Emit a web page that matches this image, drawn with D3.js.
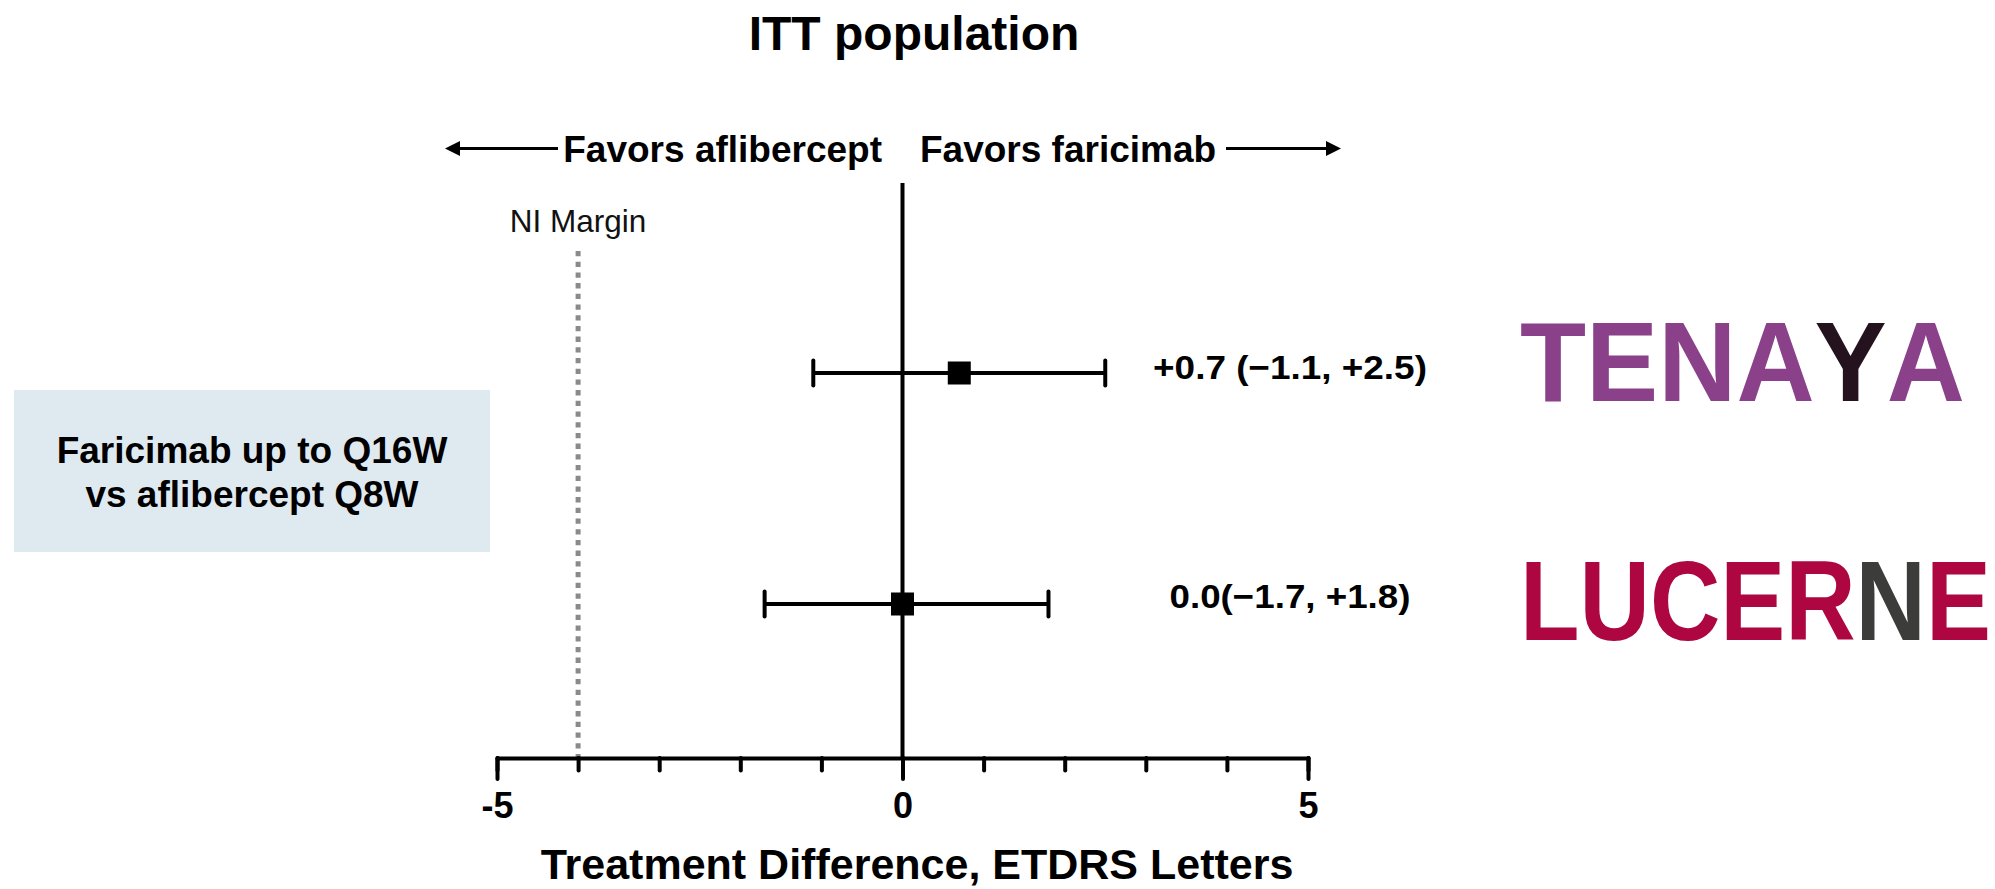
<!DOCTYPE html>
<html>
<head>
<meta charset="utf-8">
<script src="https://cdn.jsdelivr.net/npm/d3@7"></script>
<style>
  html, body { margin: 0; padding: 0; background: #fff; }
  svg { display: block; font-family: "Liberation Sans", Arial, sans-serif; }
</style>
</head>
<body>
<svg id="chart" width="1995" height="889"></svg>
<script>
// Forest plot: treatment difference (faricimab − aflibercept), ITT population
const studies = ["TENAYA", "LUCERNE"];
const estimates = [0.7, 0.0];
const lowerCI = [-1.1, -1.7];
const upperCI = [2.5, 1.8];
const estimateLabels = ["+0.7 (\u22121.1, +2.5)", "0.0(\u22121.7, +1.8)"];
const xTicks = [-5, -4, -3, -2, -1, 0, 1, 2, 3, 4, 5];
const xMajorTicks = [-5, 0, 5];
const niMargin = -4;

const rows = studies.map((s, i) => ({
  study: s, est: estimates[i], lo: lowerCI[i], hi: upperCI[i], label: estimateLabels[i]
}));

const svg = d3.select("#chart");

const x = d3.scaleLinear().domain([-5, 5]).range([497, 1308]);
const y = d3.scalePoint().domain(studies).range([373, 604]);
const axisY = 758;

// Squeeze or stretch a text horizontally so it spans the given width
function fitWidth(sel, tx, ty, width) {
  const w = sel.node().getComputedTextLength();
  sel.attr("x", 0).attr("y", 0)
    .attr("transform", `translate(${tx},${ty}) scale(${width / w},1)`);
}

// Title
svg.append("text")
  .attr("x", 914).attr("y", 50)
  .attr("text-anchor", "middle")
  .attr("font-size", 48).attr("font-weight", "bold")
  .text("ITT population");

// Direction labels with arrows
const dirY = 162, arrowY = 148.5;
svg.append("text")
  .attr("x", 882).attr("y", dirY).attr("text-anchor", "end")
  .attr("font-size", 37).attr("font-weight", "bold")
  .text("Favors aflibercept");
svg.append("text")
  .attr("x", 920).attr("y", dirY).attr("text-anchor", "start")
  .attr("font-size", 37).attr("font-weight", "bold")
  .text("Favors faricimab");

function arrow(x0, x1) {
  const dir = Math.sign(x1 - x0), head = 15, half = 7.5;
  svg.append("line")
    .attr("x1", x0).attr("x2", x1 - dir * head + dir * 2)
    .attr("y1", arrowY).attr("y2", arrowY)
    .attr("stroke", "#000").attr("stroke-width", 3);
  svg.append("path")
    .attr("d", `M${x1},${arrowY} L${x1 - dir * head},${arrowY - half} L${x1 - dir * head},${arrowY + half} Z`)
    .attr("fill", "#000");
}
arrow(558, 445);
arrow(1226, 1341);

// Comparison box
svg.append("rect")
  .attr("x", 14).attr("y", 390).attr("width", 476).attr("height", 162)
  .attr("fill", "#dfe9f0");
const boxText = svg.append("text")
  .attr("text-anchor", "middle")
  .attr("font-size", 37).attr("font-weight", "bold");
boxText.append("tspan").attr("x", 252).attr("y", 463).text("Faricimab up to Q16W");
boxText.append("tspan").attr("x", 252).attr("y", 507).text("vs aflibercept Q8W");

// Non-inferiority margin
svg.append("line")
  .attr("x1", x(niMargin)).attr("x2", x(niMargin))
  .attr("y1", 251).attr("y2", axisY)
  .attr("stroke", "#8a8a8a").attr("stroke-width", 5)
  .attr("stroke-dasharray", "5.3,5.4");
svg.append("text")
  .attr("x", x(niMargin)).attr("y", 232)
  .attr("text-anchor", "middle")
  .attr("font-size", 31.5).attr("fill", "#111")
  .text("NI Margin");

// Line of no difference
svg.append("line")
  .attr("x1", x(0)).attr("x2", x(0))
  .attr("y1", 183).attr("y2", axisY)
  .attr("stroke", "#000").attr("stroke-width", 4);

// X axis: minor ticks at every letter, longer labelled ticks at -5, 0, 5
const minorAxis = d3.axisBottom(x).tickValues(xTicks).tickSize(12.5).tickSizeOuter(0).tickFormat("");
const gMinor = svg.append("g").attr("transform", `translate(0,${axisY})`).call(minorAxis);
gMinor.select(".domain").attr("stroke", "#000").attr("stroke-width", 4).attr("stroke-linecap", "round");
gMinor.selectAll(".tick line").attr("stroke", "#000").attr("stroke-width", 4).attr("stroke-linecap", "round");

const majorAxis = d3.axisBottom(x).tickValues(xMajorTicks).tickSize(21).tickSizeOuter(0).tickFormat(d3.format("d"));
const gMajor = svg.append("g").attr("transform", `translate(0,${axisY})`).call(majorAxis);
gMajor.select(".domain").remove();
gMajor.selectAll(".tick line").attr("stroke", "#000").attr("stroke-width", 4).attr("stroke-linecap", "round");
gMajor.selectAll(".tick text")
  .attr("y", 60).attr("dy", 0)
  .attr("fill", "#000")
  .attr("font-size", 36).attr("font-weight", "bold")
  .attr("font-family", "\"Liberation Sans\", Arial, sans-serif")
  .text(d => d < 0 ? "-" + Math.abs(d) : String(d));

svg.append("text")
  .attr("x", 917).attr("y", 879)
  .attr("text-anchor", "middle")
  .attr("font-size", 43).attr("font-weight", "bold")
  .text("Treatment Difference, ETDRS Letters");

// Confidence intervals
const capHalf = 12.5;
const ci = svg.append("g").attr("stroke", "#000").attr("stroke-width", 4).attr("stroke-linecap", "round");
ci.selectAll(".ci").data(rows).join("line")
  .attr("x1", d => x(d.lo)).attr("x2", d => x(d.hi))
  .attr("y1", d => y(d.study)).attr("y2", d => y(d.study))
  .attr("stroke-linecap", "butt");
ci.selectAll(".capL").data(rows).join("line")
  .attr("x1", d => x(d.lo)).attr("x2", d => x(d.lo))
  .attr("y1", d => y(d.study) - capHalf).attr("y2", d => y(d.study) + capHalf);
ci.selectAll(".capR").data(rows).join("line")
  .attr("x1", d => x(d.hi)).attr("x2", d => x(d.hi))
  .attr("y1", d => y(d.study) - capHalf).attr("y2", d => y(d.study) + capHalf);

// Point estimates
const sq = 23;
svg.selectAll(".est").data(rows).join("rect")
  .attr("x", d => x(d.est) - sq / 2).attr("y", d => y(d.study) - sq / 2)
  .attr("width", sq).attr("height", sq).attr("fill", "#000");

// Estimate labels
const labelWidths = [274, 241];
const labelOffsets = [6, 4];
svg.selectAll(".lbl").data(rows).join("text")
  .attr("class", "lbl")
  .attr("text-anchor", "middle")
  .attr("font-size", 34).attr("font-weight", "bold")
  .text(d => d.label)
  .each(function (d, i) {
    fitWidth(d3.select(this), 1290, y(d.study) + labelOffsets[i], labelWidths[i]);
  });

// Study name marks
const tenaya = svg.append("text")
  .attr("font-size", 114).attr("font-weight", "bold")
  .attr("fill", "#8a4189");
tenaya.append("tspan").text("TENA");
tenaya.append("tspan").attr("fill", "#24131f").text("Y");
tenaya.append("tspan").text("A");
fitWidth(tenaya, 1520, 401, 425);

const lucerne = svg.append("text")
  .attr("font-size", 114).attr("font-weight", "bold")
  .attr("fill", "#ad0640");
lucerne.append("tspan").text("LUCER");
lucerne.append("tspan").attr("fill", "#3c3c3a").text("N");
lucerne.append("tspan").text("E");
fitWidth(lucerne, 1520, 640, 471);
</script>
</body>
</html>
